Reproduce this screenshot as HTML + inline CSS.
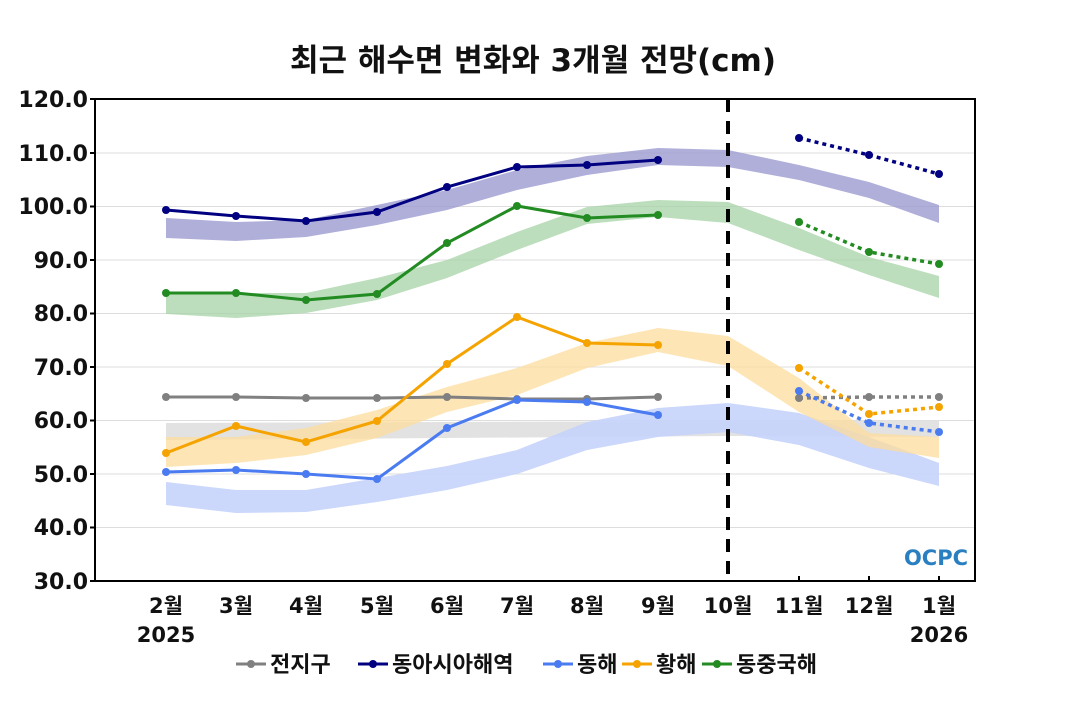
<!DOCTYPE html>
<html><head><meta charset="utf-8"><style>
body{margin:0;background:#fff}
svg text{font-family:"DejaVu Sans","Noto Sans CJK KR",sans-serif;font-weight:bold;fill:#111}
</style></head><body>
<svg width="1070" height="700" viewBox="0 0 1070 700" xmlns="http://www.w3.org/2000/svg">
<rect width="1070" height="700" fill="#fff"/>
<text x="533" y="71" font-size="31" text-anchor="middle">최근 해수면 변화와 3개월 전망(cm)</text>
<g stroke="#ddd" stroke-width="1">
<line x1="95" x2="975" y1="153" y2="153"/><line x1="95" x2="975" y1="206.5" y2="206.5"/>
<line x1="95" x2="975" y1="260" y2="260"/><line x1="95" x2="975" y1="313.5" y2="313.5"/>
<line x1="95" x2="975" y1="367" y2="367"/><line x1="95" x2="975" y1="420.5" y2="420.5"/>
<line x1="95" x2="975" y1="474" y2="474"/><line x1="95" x2="975" y1="527.5" y2="527.5"/>
</g>
<polygon fill="#e0e0e0" opacity="0.95" points="166,423 728,421 939,420 939,437 728,436 166,440"/>
<polygon fill="#c5d3fb" opacity="0.9" points="166,482 236,490 306,490 377,478 447,466 517,450 587,422 658,408 728,403 799,413 869,437 939,463 939,486 869,468 799,445 728,432 658,437 587,450 517,474 447,490 377,502 306,512 236,513 166,505"/>
<polygon fill="#fddc9c" opacity="0.75" points="166,437 236,437 306,428 377,410 447,387 517,368 587,343 658,328 728,336 799,378 869,433 939,437 939,458 869,447 799,412 728,366 658,352 587,368 517,395 447,412 377,438 306,455 236,463 166,467"/>
<polygon fill="#a6d3a6" opacity="0.75" points="166,293 236,293 306,293 377,278 447,260 517,232 587,207 658,200 728,202 799,228 869,257 939,276 939,298 869,275 799,250 728,223 658,217 587,224 517,250 447,278 377,300 306,313 236,318 166,314"/>
<polygon fill="#9b9bd0" opacity="0.8" points="166,218 236,222 306,220 377,205 447,190 517,170 587,156 658,148 728,150 799,165 869,182 939,205 939,223 869,198 799,180 728,167 658,165 587,175 517,190 447,210 377,225 306,237 236,241 166,238"/>
<g fill="none" stroke-width="3">
<polyline stroke="#808080" points="166,397 236,397 306,398 377,398 447,397 517,399 587,399 658,397"/>
<polyline stroke="#f5a300" points="166,453 236,426 306,442 377,421 447,364 517,317 587,343 658,345"/>
<polyline stroke="#4a7bf0" points="166,472 236,470 306,474 377,479 447,428 517,400 587,402 658,415"/>
<polyline stroke="#228b22" points="166,293 236,293 306,300 377,294 447,243 517,206 587,218 658,215"/>
<polyline stroke="#000080" points="166,210 236,216 306,221 377,212 447,187 517,167 587,165 658,160"/>
</g>
<g fill="none" stroke-width="3.5" stroke-dasharray="4,4">
<polyline stroke="#808080" points="799,398 869,397 939,397"/>
<polyline stroke="#f5a300" points="799,368 869,414 939,407"/>
<polyline stroke="#4a7bf0" points="799,391 869,423 939,432"/>
<polyline stroke="#228b22" points="799,222 869,252 939,264"/>
<polyline stroke="#000080" points="799,138 869,155 939,174"/>
</g>
<g fill="#808080"><circle cx="166" cy="397" r="4"/><circle cx="236" cy="397" r="4"/><circle cx="306" cy="398" r="4"/><circle cx="377" cy="398" r="4"/><circle cx="447" cy="397" r="4"/><circle cx="517" cy="399" r="4"/><circle cx="587" cy="399" r="4"/><circle cx="658" cy="397" r="4"/><circle cx="799" cy="398" r="4"/><circle cx="869" cy="397" r="4"/><circle cx="939" cy="397" r="4"/></g>
<g fill="#f5a300"><circle cx="166" cy="453" r="4"/><circle cx="236" cy="426" r="4"/><circle cx="306" cy="442" r="4"/><circle cx="377" cy="421" r="4"/><circle cx="447" cy="364" r="4"/><circle cx="517" cy="317" r="4"/><circle cx="587" cy="343" r="4"/><circle cx="658" cy="345" r="4"/><circle cx="799" cy="368" r="4"/><circle cx="869" cy="414" r="4"/><circle cx="939" cy="407" r="4"/></g>
<g fill="#4a7bf0"><circle cx="166" cy="472" r="4"/><circle cx="236" cy="470" r="4"/><circle cx="306" cy="474" r="4"/><circle cx="377" cy="479" r="4"/><circle cx="447" cy="428" r="4"/><circle cx="517" cy="400" r="4"/><circle cx="587" cy="402" r="4"/><circle cx="658" cy="415" r="4"/><circle cx="799" cy="391" r="4"/><circle cx="869" cy="423" r="4"/><circle cx="939" cy="432" r="4"/></g>
<g fill="#228b22"><circle cx="166" cy="293" r="4"/><circle cx="236" cy="293" r="4"/><circle cx="306" cy="300" r="4"/><circle cx="377" cy="294" r="4"/><circle cx="447" cy="243" r="4"/><circle cx="517" cy="206" r="4"/><circle cx="587" cy="218" r="4"/><circle cx="658" cy="215" r="4"/><circle cx="799" cy="222" r="4"/><circle cx="869" cy="252" r="4"/><circle cx="939" cy="264" r="4"/></g>
<g fill="#000080"><circle cx="166" cy="210" r="4"/><circle cx="236" cy="216" r="4"/><circle cx="306" cy="221" r="4"/><circle cx="377" cy="212" r="4"/><circle cx="447" cy="187" r="4"/><circle cx="517" cy="167" r="4"/><circle cx="587" cy="165" r="4"/><circle cx="658" cy="160" r="4"/><circle cx="799" cy="138" r="4"/><circle cx="869" cy="155" r="4"/><circle cx="939" cy="174" r="4"/></g>
<line x1="728" x2="728" y1="99" y2="581" stroke="#000" stroke-width="4" stroke-dasharray="13,9"/>
<rect x="95" y="99" width="880" height="482" fill="none" stroke="#000" stroke-width="2"/>
<g stroke="#000" stroke-width="2">
<line x1="90" x2="95" y1="99" y2="99"/><line x1="90" x2="95" y1="153" y2="153"/><line x1="90" x2="95" y1="206.5" y2="206.5"/><line x1="90" x2="95" y1="260" y2="260"/><line x1="90" x2="95" y1="313.5" y2="313.5"/><line x1="90" x2="95" y1="367" y2="367"/><line x1="90" x2="95" y1="420.5" y2="420.5"/><line x1="90" x2="95" y1="474" y2="474"/><line x1="90" x2="95" y1="527.5" y2="527.5"/><line x1="90" x2="95" y1="581" y2="581"/>
<line x1="799" x2="799" y1="581" y2="576"/><line x1="869" x2="869" y1="581" y2="576"/><line x1="939" x2="939" y1="581" y2="576"/>
</g>
<g font-size="22" text-anchor="end">
<text x="88" y="107">120.0</text><text x="88" y="161">110.0</text><text x="88" y="214">100.0</text><text x="88" y="268">90.0</text><text x="88" y="321">80.0</text><text x="88" y="375">70.0</text><text x="88" y="428">60.0</text><text x="88" y="482">50.0</text><text x="88" y="535">40.0</text><text x="88" y="589">30.0</text>
</g>
<g font-size="21" text-anchor="middle">
<text x="166" y="613">2월</text><text x="236" y="613">3월</text><text x="306" y="613">4월</text><text x="377" y="613">5월</text><text x="447" y="613">6월</text><text x="517" y="613">7월</text><text x="587" y="613">8월</text><text x="658" y="613">9월</text><text x="728" y="613">10월</text><text x="799" y="613">11월</text><text x="869" y="613">12월</text><text x="939" y="613">1월</text>
<text x="166" y="642">2025</text><text x="939" y="642">2026</text>
</g>
<text x="936" y="565" font-size="21" text-anchor="middle" style="fill:#2a7fc0">OCPC</text>
<g stroke-width="3">
<line x1="236" x2="266" y1="664" y2="664" stroke="#808080"/><circle cx="251" cy="664" r="4" fill="#808080"/>
<line x1="358" x2="388" y1="664" y2="664" stroke="#000080"/><circle cx="373" cy="664" r="4" fill="#000080"/>
<line x1="543" x2="573" y1="664" y2="664" stroke="#4a7bf0"/><circle cx="558" cy="664" r="4" fill="#4a7bf0"/>
<line x1="622" x2="652" y1="664" y2="664" stroke="#f5a300"/><circle cx="637" cy="664" r="4" fill="#f5a300"/>
<line x1="702" x2="732" y1="664" y2="664" stroke="#228b22"/><circle cx="717" cy="664" r="4" fill="#228b22"/>
</g>
<g font-size="22">
<text x="270" y="672">전지구</text><text x="392" y="672">동아시아해역</text><text x="577" y="672">동해</text><text x="656" y="672">황해</text><text x="736" y="672">동중국해</text>
</g>
</svg>
</body></html>
